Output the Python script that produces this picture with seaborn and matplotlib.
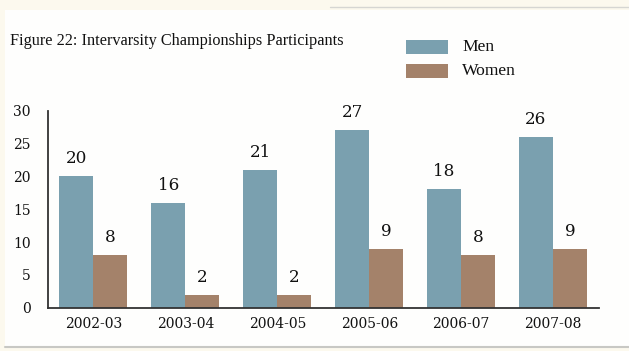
import matplotlib
matplotlib.use("Agg")
import matplotlib.pyplot as plt
from matplotlib.patches import Rectangle
from matplotlib.lines import Line2D
import seaborn as sns
import pandas as pd

# Participants per season
seasons = ["2002-03", "2003-04", "2004-05", "2005-06", "2006-07", "2007-08"]
men = [20, 16, 21, 27, 18, 26]
women = [8, 2, 2, 9, 8, 9]
groups = ["Men", "Women"]
colors = ["#7AA0AF", "#A4826A"]

df = pd.DataFrame({
    "Season": seasons * 2,
    "Group": [groups[0]] * len(seasons) + [groups[1]] * len(seasons),
    "Participants": men + women,
})

sns.set_style("white")
plt.rcParams["font.family"] = ["DejaVu Serif"]

W, H = 629, 351
fig = plt.figure(figsize=(W / 100, H / 100), dpi=100)
fig.patch.set_facecolor("#FCF9EE")

# white card with a soft shadow edge
fig.patches.append(Rectangle((5 / W, 5 / H), 624 / W, 336 / H,
                             transform=fig.transFigure, facecolor="#FEFEFD",
                             edgecolor="none", zorder=-5))
fig.lines.append(Line2D([5 / W, 1], [4 / H, 4 / H], transform=fig.transFigure,
                        color="#C8C8C4", lw=1.5, zorder=-4))
fig.lines.append(Line2D([330 / W, 1], [344.5 / H, 344.5 / H], transform=fig.transFigure,
                        color="#D6D6D2", lw=1.0, zorder=-4))

ax = fig.add_axes([47.5 / W, (H - 307.7) / H, (599 - 47.5) / W, (307.7 - 110.7) / H])
ax.set_facecolor("none")
ax.set_zorder(2)

sns.barplot(data=df, x="Season", y="Participants", hue="Group", order=seasons,
            hue_order=groups, palette=colors, width=0.74, saturation=1,
            edgecolor="none", ax=ax, legend=False)

for cont in ax.containers:
    ax.bar_label(cont, labels=[f"{v:.0f}" for v in cont.datavalues], padding=6.5,
                 fontsize=12.2, color="#111111", family="DejaVu Serif")

ax.set_xlim(-0.5, len(seasons) - 0.5)
ax.set_ylim(0, 30)
ax.set_yticks(range(0, 31, 5))
ax.set_xlabel("")
ax.set_ylabel("")

for side in ("top", "right"):
    ax.spines[side].set_visible(False)
for side in ("left", "bottom"):
    ax.spines[side].set_color("#333333")
    ax.spines[side].set_linewidth(1.3)

ax.tick_params(axis="y", direction="in", length=5, width=1.3, color="#555555",
               pad=12, labelsize=10, labelcolor="#111111")
ax.tick_params(axis="x", which="major", length=0, pad=7, labelsize=10,
               labelcolor="#111111")
ax.set_xticks([i + 0.5 for i in range(len(seasons))], minor=True)
ax.tick_params(axis="x", which="minor", direction="in", length=4, width=1.0,
               color="#333333")

fig.text(10 / W, (H - 45) / H, "Figure 22: Intervarsity Championships Participants",
         family="Liberation Serif", fontsize=11.7, color="#111111", va="baseline")

# legend swatches and labels
for i, (g, c) in enumerate(zip(groups, colors)):
    y0 = 40 + i * 24
    fig.patches.append(Rectangle((406 / W, (H - y0 - 13.5) / H), 42 / W, 13.5 / H,
                                 transform=fig.transFigure, facecolor=c,
                                 edgecolor="none", zorder=2))
    fig.text(462 / W, (H - y0 - 7) / H, g, family="Liberation Serif",
             fontsize=12.6, color="#111111", va="center")

fig.savefig("out.png", dpi=100, facecolor=fig.get_facecolor())
